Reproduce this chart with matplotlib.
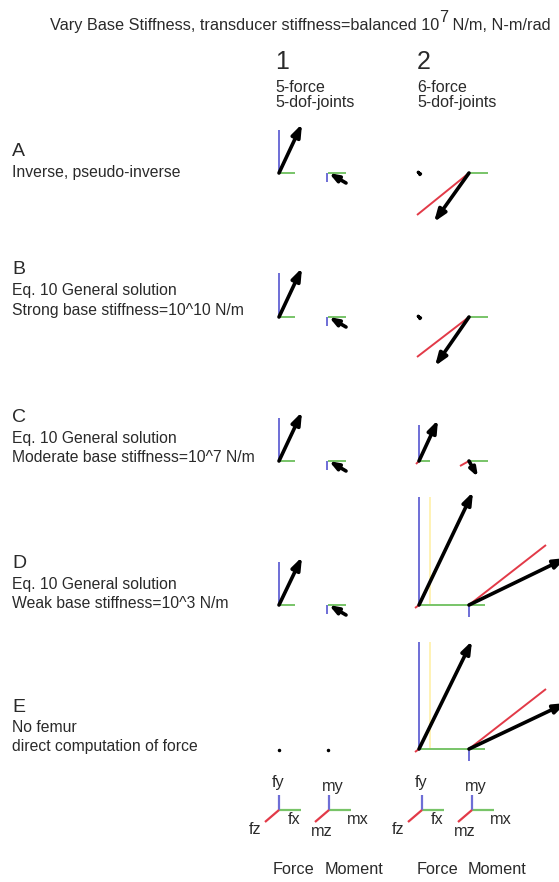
import numpy as np
import matplotlib
matplotlib.use('Agg')
import matplotlib.pyplot as plt

plt.rcParams['font.family'] = ['Liberation Sans', 'DejaVu Sans']

# row labels
row_letters = ['A', 'B', 'C', 'D', 'E']
row_desc = [['Inverse, pseudo-inverse'],
            ['Eq. 10 General solution', 'Strong base stiffness=10^10 N/m'],
            ['Eq. 10 General solution', 'Moderate base stiffness=10^7 N/m'],
            ['Eq. 10 General solution', 'Weak base stiffness=10^3 N/m'],
            ['No femur', 'direct computation of force']]
col_nums = ['1', '2']
col_desc = [['5-force', '5-dof-joints'], ['6-force', '5-dof-joints']]

# vector components (x right, y up) for each row A..E
# column 1, force
c1_fx = [16, 16, 16, 16, 0]
c1_fy = [43, 44, 43, 43, 0]
c1_res = [(23, 49), (23, 49), (23, 49), (23, 48), (0, 0)]
# column 1, moment (mx, my, resultant)
c1_mx = [18, 18, 18, 18, 0]
c1_my = [-9, -9, -9, -9, 0]
c1_mres = [(17, -10), (17, -10), (17, -10), (17, -10), (0, 0)]
# column 2, force
c2_fx = [0, 0, 11, 50, 50]
c2_fy = [0, 0, 36, 108, 107]
c2_fz = [(0, 0), (0, 0), (-3, -3), (-4, -3), (-4, -3)]
c2_res = [(-3, 3), (-3, 3), (19, 41), (54, 113), (53, 108)]
c2_yel = [0, 0, 0, 11, 11]
# column 2, moment
c2_mx = [19, 19, 19, 16, 16]
c2_my = [0, 0, 0, -12, -12]
c2_mz = [(-52, -42), (-52, -40), (-9, -5), (77, 60), (77, 60)]
c2_mres = [(-35, -49), (-34, -49), (9, -16), (97, 47), (97, 46)]

# legend axes labels
leg_force = ['fx', 'fy', 'fz']
leg_moment = ['mx', 'my', 'mz']
leg_vec = [(22, 0), (0, 15), (-14, -12)]

BLUE = '#6e6ed6'
GREEN = '#78c468'
RED = '#e23a48'
YEL = '#fff0a8'
TXT = '#2a2a2a'

fig = plt.figure(figsize=(5.59, 8.82), dpi=100)
ax = fig.add_axes([0, 0, 1, 1])
ax.set_xlim(0, 559)
ax.set_ylim(882, 0)
ax.axis('off')

row_y = [173, 317, 461, 605, 749]
x_f1, x_m1, x_f2, x_m2 = 279, 328, 419, 469


def seg(x0, y0, dx, dy, color, lw=1.4):
    if dx == 0 and dy == 0:
        return
    ax.plot([x0, x0 + dx], [y0, y0 - dy], color=color, lw=lw,
            solid_capstyle='butt')


def arrow(x0, y0, dx, dy, reverse=False):
    if dx == 0 and dy == 0:
        return
    tail, head = (x0, y0), (x0 + dx, y0 - dy)
    if reverse:
        tail, head = head, tail
    size = min(12, 0.45 * np.hypot(dx, dy))
    ax.annotate('', xy=head, xytext=tail,
                arrowprops=dict(arrowstyle='-|>,head_length=0.6,head_width=0.22',
                                lw=2.6 if size > 6 else 2.2, color='k',
                                mutation_scale=size, shrinkA=0, shrinkB=0),
                annotation_clip=False)


for i, y in enumerate(row_y):
    # column 1 force
    seg(x_f1, y, 0, c1_fy[i], BLUE)
    seg(x_f1, y, c1_fx[i], 0, GREEN)
    arrow(x_f1, y, *c1_res[i])
    # column 1 moment
    seg(x_m1, y, c1_mx[i], 0, GREEN)
    seg(x_m1 - 1, y, 0, c1_my[i], BLUE)
    arrow(x_m1 + 1, y, *c1_mres[i], reverse=True)
    if c1_fy[i] == 0:
        ax.plot([x_f1, x_m1], [y + 1, y + 1], 'k.', ms=3)
    # column 2 force
    if c2_yel[i]:
        seg(x_f2 + c2_yel[i], y, 0, c2_fy[i], YEL, lw=1.2)
    seg(x_f2, y, 0, c2_fy[i], BLUE)
    seg(x_f2, y, c2_fx[i], 0, GREEN)
    seg(x_f2, y, *c2_fz[i], RED)
    arrow(x_f2, y, *c2_res[i])
    # column 2 moment
    seg(x_m2, y, c2_mx[i], 0, GREEN)
    seg(x_m2, y, 0, c2_my[i], BLUE)
    seg(x_m2, y, *c2_mz[i], RED)
    arrow(x_m2, y, *c2_mres[i])

# title
t1 = ax.text(50, 30, 'Vary Base Stiffness, transducer stiffness=balanced 10',
             fontsize=11.7, va='baseline', ha='left', color=TXT)
t2 = ax.annotate('7', xy=(1, 1), xycoords=t1, fontsize=11.7, va='center',
                 ha='left', color=TXT)
ax.annotate(' N/m, N-m/rad', xy=(1, 0), xycoords=(t2, t1), fontsize=11.7,
            va='bottom', ha='left', color=TXT)

# column headers
for cx, num, desc in zip([275, 417], col_nums, col_desc):
    ax.text(cx, 62, num, fontsize=18, va='center', ha='left', color=TXT)
    ax.text(cx, 87, desc[0], fontsize=11.5, va='center', ha='left', color=TXT)
    ax.text(cx, 102, desc[1], fontsize=11.5, va='center', ha='left', color=TXT)

# row labels
letter_y = [151, 270, 417, 563, 707]
for letter, desc, ly in zip(row_letters, row_desc, letter_y):
    ax.text(12, ly, letter, fontsize=14, va='center', ha='left', color=TXT)
    for k, line in enumerate(desc):
        ax.text(12, ly + 21 + k * 19, line, fontsize=11.3, va='center',
                ha='left', color=TXT)

# legend axes
leg_colors = [GREEN, BLUE, RED]
leg_origin = [(279, 810), (329, 810), (422, 810), (472, 810)]
leg_names = [leg_force, leg_moment, leg_force, leg_moment]
label_off = {'fx': (15, 10), 'fy': (-1, -27), 'fz': (-24, 19),
             'mx': (29, 9), 'my': (4, -23), 'mz': (-7, 21)}
for (ox, oy), names in zip(leg_origin, leg_names):
    for (dx, dy), col, nm in zip(leg_vec, leg_colors, names):
        seg(ox, oy, dx, dy, col, lw=1.6)
        lx, ly = label_off[nm]
        ax.text(ox + lx, oy + ly, nm, fontsize=11.7, ha='center', va='center',
                color=TXT)

for x, lab in zip([293, 354, 437, 497], ['Force', 'Moment', 'Force', 'Moment']):
    ax.text(x, 870, lab, fontsize=11.7, ha='center', va='center', color=TXT)

fig.savefig('out.png', dpi=100, facecolor='white')
